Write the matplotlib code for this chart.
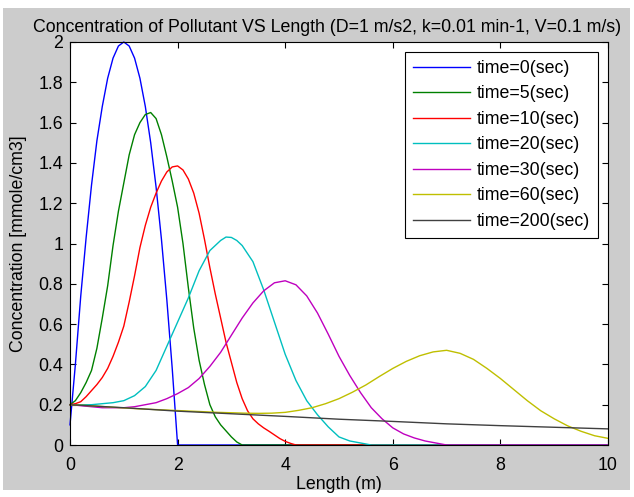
import numpy as np
import matplotlib.pyplot as plt
from matplotlib.patches import Rectangle

# Values
x_t0 = [0.0, 0.1, 0.2, 0.3, 0.4, 0.5, 0.6, 0.7, 0.8, 0.9, 1.0,
        1.1, 1.2, 1.3, 1.4, 1.5, 1.6, 1.7, 1.8, 1.9, 2.0, 10.0]
c_t0 = [0.10, 0.40, 0.74, 1.03, 1.29, 1.51, 1.68, 1.82, 1.92, 1.98, 2.00,
        1.98, 1.92, 1.82, 1.68, 1.50, 1.28, 1.02, 0.72, 0.38, 0.0, 0.0]

x_t5 = [0.0, 0.1, 0.2, 0.3, 0.4, 0.5, 0.6, 0.7, 0.8, 0.9, 1.0,
        1.1, 1.2, 1.3, 1.4, 1.5, 1.6, 1.7, 1.8, 1.9, 2.0,
        2.1, 2.2, 2.3, 2.4, 2.5, 2.6, 2.7, 2.8, 2.9, 3.0, 3.1, 3.2, 10.0]
c_t5 = [0.20, 0.22, 0.26, 0.31, 0.37, 0.48, 0.63, 0.79, 0.99, 1.16, 1.30,
        1.44, 1.54, 1.60, 1.64, 1.65, 1.62, 1.54, 1.43, 1.31, 1.18,
        1.00, 0.78, 0.58, 0.42, 0.30, 0.20, 0.14, 0.10, 0.07, 0.04, 0.015, 0.0, 0.0]

x_t10 = [0.0, 0.1, 0.2, 0.3, 0.4, 0.5, 0.6, 0.7, 0.8, 0.9, 1.0,
         1.1, 1.2, 1.3, 1.4, 1.5, 1.6, 1.7, 1.8, 1.9, 2.0,
         2.1, 2.2, 2.3, 2.4, 2.5, 2.6, 2.7, 2.8, 2.9, 3.0,
         3.1, 3.2, 3.3, 3.4, 3.5, 3.6, 3.7, 3.8, 3.9, 4.0, 4.1, 4.2, 10.0]
c_t10 = [0.20, 0.205, 0.215, 0.24, 0.27, 0.30, 0.335, 0.38, 0.44, 0.51, 0.59,
         0.71, 0.84, 0.98, 1.09, 1.18, 1.25, 1.31, 1.355, 1.38, 1.385,
         1.365, 1.32, 1.25, 1.15, 1.02, 0.88, 0.75, 0.63, 0.51, 0.41,
         0.31, 0.23, 0.17, 0.13, 0.105, 0.085, 0.068, 0.05, 0.032, 0.018, 0.008, 0.0, 0.0]

x_t20 = [0.0, 0.2, 0.4, 0.6, 0.8, 1.0, 1.2, 1.4, 1.6, 1.8, 2.0,
         2.2, 2.4, 2.6, 2.8, 2.9, 3.0, 3.1, 3.2, 3.4, 3.6, 3.8, 4.0,
         4.2, 4.4, 4.6, 4.8, 5.0, 5.2, 5.4, 5.6, 10.0]
c_t20 = [0.20, 0.20, 0.20, 0.205, 0.21, 0.22, 0.245, 0.29, 0.37, 0.49, 0.61,
         0.73, 0.865, 0.965, 1.015, 1.032, 1.03, 1.015, 0.99, 0.91, 0.77, 0.61, 0.45,
         0.32, 0.22, 0.15, 0.09, 0.04, 0.02, 0.01, 0.0, 0.0]

x_t30 = [0.0, 0.2, 0.4, 0.6, 0.8, 1.0, 1.2, 1.4, 1.6, 1.8, 2.0,
         2.2, 2.4, 2.6, 2.8, 3.0, 3.2, 3.4, 3.6, 3.8, 4.0,
         4.2, 4.4, 4.6, 4.8, 5.0, 5.2, 5.4, 5.6, 5.8, 6.0,
         6.2, 6.4, 6.6, 6.8, 7.0, 10.0]
c_t30 = [0.20, 0.195, 0.19, 0.185, 0.185, 0.185, 0.19, 0.20, 0.21, 0.23, 0.255,
         0.285, 0.33, 0.39, 0.46, 0.545, 0.63, 0.705, 0.765, 0.805, 0.815,
         0.795, 0.74, 0.655, 0.55, 0.44, 0.345, 0.26, 0.185, 0.13, 0.085,
         0.055, 0.035, 0.02, 0.01, 0.0, 0.0]

x_t60 = [0.0, 0.25, 0.5, 0.75, 1.0, 1.25, 1.5, 1.75, 2.0, 2.25, 2.5,
         2.75, 3.0, 3.25, 3.5, 3.75, 4.0, 4.25, 4.5, 4.75, 5.0,
         5.25, 5.5, 5.75, 6.0, 6.25, 6.5, 6.75, 7.0, 7.25, 7.5,
         7.75, 8.0, 8.25, 8.5, 8.75, 9.0, 9.25, 9.5, 9.75, 10.0]
c_t60 = [0.20, 0.197, 0.193, 0.188, 0.184, 0.18, 0.177, 0.174, 0.171, 0.168, 0.165,
         0.162, 0.16, 0.158, 0.157, 0.158, 0.162, 0.172, 0.185, 0.205, 0.23,
         0.262, 0.298, 0.34, 0.38, 0.415, 0.443, 0.462, 0.47, 0.455, 0.425,
         0.38, 0.33, 0.275, 0.22, 0.17, 0.13, 0.095, 0.068, 0.046, 0.033]

x_t200 = [0, 1, 2, 3, 4, 5, 6, 7, 8, 9, 10]
c_t200 = [0.20, 0.185, 0.168, 0.155, 0.142, 0.128, 0.117, 0.105, 0.096, 0.088, 0.08]

labels = ['time=0(sec)', 'time=5(sec)', 'time=10(sec)', 'time=20(sec)',
          'time=30(sec)', 'time=60(sec)', 'time=200(sec)']
colors = [(0, 0, 1), (0, 0.5, 0), (1, 0, 0), (0, 0.75, 0.75),
          (0.75, 0, 0.75), (0.75, 0.75, 0), (0.25, 0.25, 0.25)]

xticks = [0, 2, 4, 6, 8, 10]
yticks = [0, 0.2, 0.4, 0.6, 0.8, 1.0, 1.2, 1.4, 1.6, 1.8, 2.0]
ytick_labels = ['0', '0.2', '0.4', '0.6', '0.8', '1', '1.2', '1.4', '1.6', '1.8', '2']

plt.rcParams['font.family'] = ['Liberation Sans', 'DejaVu Sans']
fs = 12.8

fig = plt.figure(figsize=(6.34, 4.97), dpi=100, facecolor='white')
# grey figure panel with a thin white border, like the screenshot
fig.patches.append(Rectangle((3 / 634, 7 / 497), 627 / 634, 482 / 497,
                             transform=fig.transFigure, facecolor='#cccccc',
                             edgecolor='none', zorder=-10))
ax = fig.add_axes([70 / 634, 52 / 497, 538 / 634, 403 / 497])

series = [(x_t0, c_t0), (x_t5, c_t5), (x_t10, c_t10), (x_t20, c_t20),
          (x_t30, c_t30), (x_t60, c_t60), (x_t200, c_t200)]
for (xs, ys), lab, col in zip(series, labels, colors):
    ax.plot(xs, ys, color=col, lw=1.0, label=lab, clip_on=False)

ax.set_xlim(0, 10)
ax.set_ylim(0, 2)
ax.set_xticks(xticks)
ax.set_xticklabels([str(t) for t in xticks])
ax.set_yticks(yticks)
ax.set_yticklabels(ytick_labels)
ax.tick_params(direction='in', top=True, right=True, length=4, width=0.8,
               labelsize=fs)
ax.tick_params(axis='x', pad=8.5)
ax.tick_params(axis='y', pad=5)
for sp in ax.spines.values():
    sp.set_linewidth(0.8)

ax.set_title('Concentration of Pollutant VS Length (D=1 m/s2, k=0.01 min-1, V=0.1 m/s)',
             fontsize=12.8, pad=7.5, x=0.478)
ax.set_xlabel('Length (m)', fontsize=fs, labelpad=1.5)
ax.set_ylabel('Concentration [mmole/cm3]', fontsize=fs, labelpad=8)

leg = ax.legend(loc='upper right', fontsize=fs, fancybox=False, framealpha=1,
                edgecolor='black', handlelength=3.2, handletextpad=0.4,
                labelspacing=0.48, borderaxespad=0.55, borderpad=0.45)
leg.get_frame().set_linewidth(0.8)

fig.savefig('out.png', dpi=100, facecolor=fig.get_facecolor())
